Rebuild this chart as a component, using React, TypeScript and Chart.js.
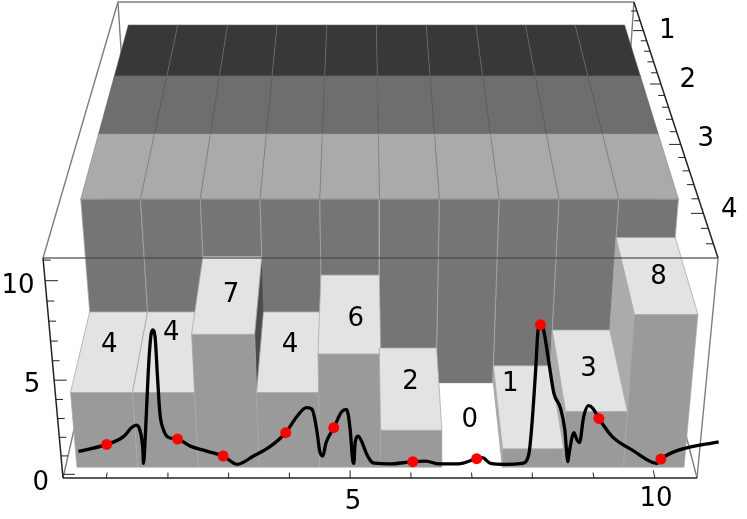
import React, { useEffect, useRef } from "react";
import { Chart, registerables } from "chart.js";

Chart.register(...registerables);

// ---- data ----
const columns = [1, 2, 3, 4, 5, 6, 7, 8, 9, 10];
const row1Values = [10, 10, 10, 10, 10, 10, 10, 10, 10, 10];
const row2Values = [10, 10, 10, 10, 10, 10, 10, 10, 10, 10];
const row3Values = [10, 10, 10, 10, 10, 10, 10, 10, 10, 10];
const row4Values = [4, 4, 7, 4, 6, 2, 0, 1, 3, 8];
const xTickLabels = [5, 10];
const zTickLabels = [0, 5, 10];
const depthTickLabels = [1, 2, 3, 4];

const curveX = [0.53, 0.995, 1.27, 1.41, 1.48, 1.54, 1.59, 1.6, 1.63, 1.68, 1.72, 1.75, 1.79, 1.83, 1.87, 1.93, 2.01, 2.16, 2.37, 2.64, 2.91, 3.14, 3.41, 3.68, 3.94, 4.12, 4.28, 4.37, 4.45, 4.5, 4.55, 4.6, 4.73, 4.86, 4.94, 5.0, 5.04, 5.06, 5.08, 5.13, 5.19, 5.27, 5.36, 5.41, 5.63, 6.03, 6.24, 6.46, 6.78, 7.08, 7.17, 7.31, 7.55, 7.83, 7.94, 7.99, 8.05, 8.09, 8.13, 8.18, 8.27, 8.35, 8.46, 8.53, 8.58, 8.6, 8.68, 8.73, 8.77, 8.84, 8.92, 8.99, 9.09, 9.31, 9.64, 10.05, 10.11, 10.4, 11.06];
const curveZ = [1.2, 1.57, 1.98, 2.47, 2.59, 2.33, 1.27, 0.57, 1.98, 5.49, 7.25, 7.6, 7.25, 5.14, 3.21, 2.33, 1.94, 1.85, 1.48, 1.22, 0.96, 0.52, 0.96, 1.45, 2.19, 3.03, 3.51, 3.43, 2.33, 1.19, 0.96, 1.63, 2.45, 3.29, 3.42, 2.33, 0.75, 0.57, 1.63, 2.01, 1.71, 1.06, 0.62, 0.58, 0.54, 0.66, 0.69, 0.54, 0.55, 0.82, 0.87, 0.57, 0.52, 0.57, 1.1, 2.68, 5.49, 7.6, 7.88, 7.6, 5.84, 4.26, 3.47, 2.33, 0.66, 1.1, 2.19, 1.8, 1.66, 3.03, 3.61, 3.47, 2.94, 1.98, 1.27, 0.57, 0.8, 1.27, 1.71];
const pointX = [0.995, 2.16, 2.91, 3.94, 4.73, 6.03, 7.08, 8.13, 9.09, 10.11];
const pointZ = [1.57, 1.85, 0.96, 2.19, 2.45, 0.66, 0.82, 7.88, 2.94, 0.8];

// ---- axis ranges of the 3D box ----
const X_MIN = 0.292, X_MAX = 10.69;
const Y_MIN = 0.41, Y_MAX = 4.58;
const Z_MIN = -0.2, Z_MAX = 11.1;

// ---- camera ----
function project(xv: number, yv: number, zv: number) {
  const u = (xv - X_MIN) / (X_MAX - X_MIN);
  const w = (Y_MAX - yv) / (Y_MAX - Y_MIN);
  const h = (zv - Z_MIN) / (Z_MAX - Z_MIN);
  const s = 1 / (1 + 0.2895 * w - 0.0608 * h);
  return {
    x: s * (380 + 104.5 * w - 22.6 * h + 634 * (u - 0.5)),
    y: s * (478 - 239.9 * w - 235.65 * h),
  };
}

// ---- styles ----
const topFill = ["#383838", "#6e6e6e", "#aaaaaa", "#e3e3e3"];
const frontFill = ["#3f3f3f", "#5a5a5a", "#757575", "#9a9a9a"];
const edge = ["rgba(110,110,110,0.5)", "rgba(90,90,90,0.5)", "rgba(120,120,120,0.55)", "rgba(170,170,170,0.8)"];
const frontEdge = "rgba(170,170,170,0.75)";

type P = { x: number; y: number };

function poly(points: P[], fill: string | null, stroke: string, width: number) {
  return {
    data: points,
    showLine: true,
    fill: fill ? "shape" : false,
    backgroundColor: fill || "transparent",
    borderColor: stroke,
    borderWidth: width,
    borderJoinStyle: "round",
    pointRadius: 0,
    pointHoverRadius: 0,
    tension: 0,
    xAxisID: "x",
    yAxisID: "y",
  };
}

function quad(a: P, b: P, c: P, d: P, fill: string, stroke: string) {
  return poly([a, b, c, d, a], fill, stroke, 1);
}

function barFaces(col: number, row: number, val: number, rowIndex: number, vals: number[]) {
  const x0 = col - 0.5, x1 = col + 0.5, y0 = row - 0.5, y1 = row + 0.5;
  const out: any[] = [];
  const p = project;
  if (val > 0) {
    if (col > 5) {
      const inner = vals[col - 2];
      if (inner < val) {
        out.push(quad(p(x0, y0, 0), p(x0, y1, 0), p(x0, y1, val), p(x0, y0, val), "#ababab", "rgba(170,170,170,0.6)"));
      }
    } else {
      const inner = vals[col];
      if (inner < val) {
        out.push(quad(p(x1, y0, 0), p(x1, y1, 0), p(x1, y1, val), p(x1, y0, val), "#4c4c4c", "rgba(90,90,90,0.6)"));
      }
    }
    out.push(quad(p(x0, y1, 0), p(x1, y1, 0), p(x1, y1, val), p(x0, y1, val), frontFill[rowIndex], frontEdge));
  }
  const topColor = val === 0 ? "#ffffff" : topFill[rowIndex];
  out.push(quad(p(x0, y0, val), p(x1, y0, val), p(x1, y1, val), p(x0, y1, val), topColor, val === 0 ? "rgba(255,255,255,0)" : edge[rowIndex]));
  return out;
}

function seg(a: P, b: P, color: string, width: number) {
  return poly([a, b], null, color, width);
}

function buildDatasets() {
  const list: any[] = [];
  const grey = "#7d7d7d";
  // hidden rear edges of the box
  list.push(seg(project(X_MIN, Y_MIN, Z_MIN), project(X_MIN, Y_MIN, Z_MAX), grey, 1.4));
  list.push(seg(project(X_MAX, Y_MIN, Z_MIN), project(X_MAX, Y_MIN, Z_MAX), grey, 1.4));
  list.push(seg(project(X_MIN, Y_MAX, Z_MIN), project(X_MIN, Y_MIN, Z_MIN), grey, 1.4));
  list.push(seg(project(X_MAX, Y_MAX, Z_MIN), project(X_MAX, Y_MIN, Z_MIN), grey, 1.4));
  list.push(seg(project(X_MIN, Y_MIN, Z_MAX), project(X_MAX, Y_MIN, Z_MAX), grey, 1.4));
  list.push(seg(project(X_MIN, Y_MAX, Z_MAX), project(X_MIN, Y_MIN, Z_MAX), grey, 1.4));

  const rows = [row1Values, row2Values, row3Values, row4Values];
  const leftOrder = columns.filter((c) => c <= 5);
  const rightOrder = columns.filter((c) => c > 5).reverse();
  rows.forEach((vals, r) => {
    [...leftOrder, ...rightOrder].forEach((c) => {
      list.push(...barFaces(c, r + 1, vals[c - 1], r, vals));
    });
  });

  // front box edges and axes
  list.push(seg(project(X_MIN, Y_MAX, Z_MAX), project(X_MAX, Y_MAX, Z_MAX), "rgba(70,70,70,0.8)", 1.4));
  list.push(seg(project(X_MAX, Y_MAX, Z_MIN), project(X_MAX, Y_MAX, Z_MAX), grey, 1.4));
  list.push(seg(project(X_MIN, Y_MAX, Z_MIN), project(X_MAX, Y_MAX, Z_MIN), "#222222", 1.5));
  list.push(seg(project(X_MIN, Y_MAX, Z_MIN), project(X_MIN, Y_MAX, Z_MAX), "#222222", 1.5));
  list.push(seg(project(X_MAX, Y_MIN, Z_MAX), project(X_MAX, Y_MAX, Z_MAX), "#222222", 1.5));

  // ticks
  columns.forEach((c) => {
    const len = xTickLabels.includes(c) ? 0.085 : 0.06;
    list.push(seg(project(c, Y_MAX, Z_MIN), project(c, Y_MAX - len, Z_MIN), "#222222", 1));
  });
  for (let z = 0; z <= 11; z++) {
    const len = zTickLabels.includes(z) ? 0.2 : 0.115;
    list.push(seg(project(X_MIN, Y_MAX, z), project(X_MIN + len, Y_MAX, z), "#222222", 1));
  }
  for (let i = 3; i <= 22; i++) {
    const yv = i / 5;
    const len = depthTickLabels.includes(yv) ? 0.2 : 0.115;
    list.push(seg(project(X_MAX, yv, Z_MAX), project(X_MAX - len, yv, Z_MAX), "#222222", 1));
  }

  // curve and points, on their own front-plane scales
  list.push({
    data: curveX.map((x, i) => ({ x, y: curveZ[i] })),
    showLine: true,
    fill: false,
    borderColor: "#000000",
    borderWidth: 3.3,
    pointRadius: 0,
    pointHoverRadius: 0,
    cubicInterpolationMode: "monotone",
    xAxisID: "xc",
    yAxisID: "yc",
  });
  list.push({
    data: pointX.map((x, i) => ({ x, y: pointZ[i] })),
    showLine: false,
    backgroundColor: "#ff0000",
    borderColor: "#ff0000",
    borderWidth: 0,
    pointRadius: 5.5,
    pointHoverRadius: 5.5,
    xAxisID: "xc",
    yAxisID: "yc",
  });
  const n = list.length;
  list.forEach((d, i) => (d.order = n - i));
  return list;
}

// label placement nudges, in pixels
const barLabelNudge = [
  [-1, -6], [1, -18], [3, 1], [0, -6], [6, 6], [1, -5], [2, -4], [-17, -22], [0, 0], [3, 3],
];
const xLabelNudge = [[3, 24], [1, 21]];
const zLabelNudge = [[-22, 9], [-22, 5], [-27, 6]];
const depthLabelNudge = [[24, 1], [27, -4], [25, -5], [26, -3]];

const textPlugin = {
  id: "chartText",
  afterDraw(chart: any) {
    const { ctx } = chart;
    const sx = chart.scales.x, sy = chart.scales.y;
    const put = (text: string, p: P, nudge: number[]) => {
      ctx.fillText(text, sx.getPixelForValue(p.x) + nudge[0], sy.getPixelForValue(p.y) + nudge[1]);
    };
    ctx.save();
    ctx.font = '26px "DejaVu Sans"';
    ctx.fillStyle = "#000000";
    ctx.textAlign = "center";
    ctx.textBaseline = "middle";
    row4Values.forEach((v, i) => put(String(v), project(columns[i], 4, v), barLabelNudge[i]));
    xTickLabels.forEach((v, i) => put(String(v), project(v, Y_MAX, Z_MIN), xLabelNudge[i]));
    zTickLabels.forEach((v, i) => put(String(v), project(X_MIN, Y_MAX, v), zLabelNudge[i]));
    depthTickLabels.forEach((v, i) => put(String(v), project(X_MAX, v, Z_MAX), depthLabelNudge[i]));
    ctx.restore();
  },
};

export default function App() {
  const ref = useRef<HTMLCanvasElement>(null);
  useEffect(() => {
    document.body.style.margin = "0";
    document.body.style.background = "#ffffff";
    const chart = new Chart(ref.current as HTMLCanvasElement, {
      type: "scatter",
      data: { datasets: buildDatasets() },
      plugins: [textPlugin],
      options: {
        animation: false,
        responsive: false,
        layout: { padding: 0, autoPadding: false },
        events: [],
        plugins: { legend: { display: false }, tooltip: { enabled: false } },
        scales: {
          x: { type: "linear", min: 0, max: 747, display: false },
          y: { type: "linear", min: 0, max: 519, reverse: true, display: false },
          xc: { type: "linear", axis: "x", min: -0.76, max: 11.526, display: false },
          yc: { type: "linear", axis: "y", min: -2.36, max: 24.99, display: false },
        },
      },
    } as any);
    return () => chart.destroy();
  }, []);
  return <canvas ref={ref} width={747} height={519} style={{ display: "block" }} />;
}
